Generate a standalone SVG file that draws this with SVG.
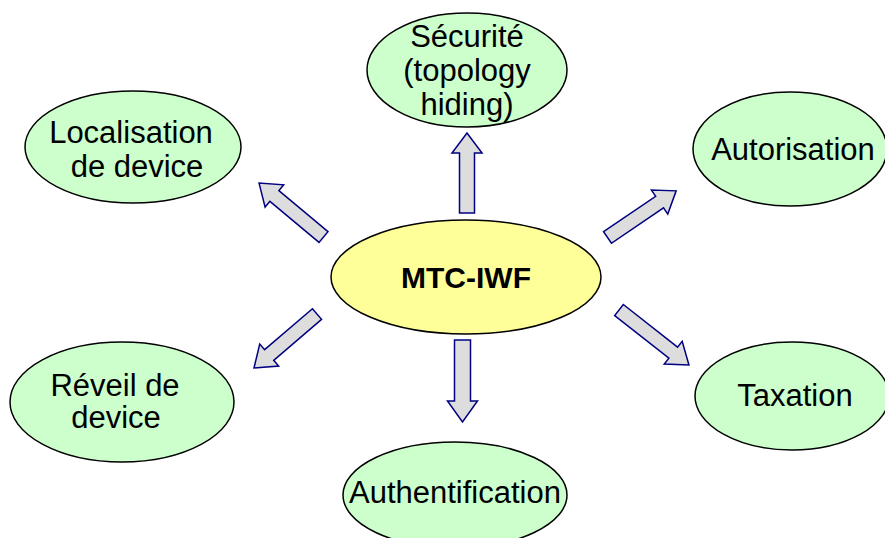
<svg xmlns="http://www.w3.org/2000/svg" width="885" height="538" viewBox="0 0 885 538">
<style>
.n{fill:#ccffcc;stroke:#000;stroke-width:1.5}
.c{fill:#ffff99;stroke:#000;stroke-width:1.5}
.t{font-family:"Liberation Sans",Arial,sans-serif;font-size:31px;fill:#000;text-anchor:middle}
.b{font-weight:bold;font-size:30px}
.a{fill:#dddddd;stroke:#000080;stroke-width:1.5;stroke-linejoin:miter}
</style>
<rect width="885" height="538" fill="#fff"/>
<g id="securite">
<ellipse class="n" cx="467" cy="70" rx="100" ry="57"/>
<text class="t" x="467" y="47">Sécurité</text>
<text class="t" x="467" y="81">(topology</text>
<text class="t" x="467" y="115">hiding)</text>
</g>
<g id="localisation">
<ellipse class="n" cx="133" cy="147" rx="108" ry="56"/>
<text class="t" x="131" y="143">Localisation</text>
<text class="t" x="137" y="177">de device</text>
</g>
<g id="autorisation">
<ellipse class="n" cx="790" cy="149" rx="97" ry="57"/>
<text class="t" x="793" y="160">Autorisation</text>
</g>
<g id="mtc-iwf">
<ellipse class="c" cx="466" cy="277" rx="135" ry="57"/>
<text class="t b" x="466" y="288">MTC-IWF</text>
</g>
<g id="reveil">
<ellipse class="n" cx="122" cy="402" rx="112" ry="60"/>
<text class="t" x="115" y="396">Réveil de</text>
<text class="t" x="116" y="428">device</text>
</g>
<g id="taxation">
<ellipse class="n" cx="792" cy="396" rx="97" ry="54"/>
<text class="t" x="795" y="406">Taxation</text>
</g>
<g id="authentification">
<ellipse class="n" cx="455" cy="495" rx="112" ry="53"/>
<text class="t" x="455" y="503">Authentification</text>
</g>
<g id="connectors">
<path class="a" transform="translate(467,213) rotate(-90)" d="M0,-7.5 H60 V-15 L80,0 L60,15 V7.5 H0 Z"/>
<path class="a" transform="translate(462.5,340) rotate(90)" d="M0,-8 H61 V-15 L82,0 L61,15 V8 H0 Z"/>
<path class="a" transform="translate(323.5,237) rotate(-140.1)" d="M0,-7 H64 V-14.5 L84,0 L64,14.5 V7 H0 Z"/>
<path class="a" transform="translate(607.5,237.5) rotate(-34.2)" d="M0,-7 H63 V-14.5 L83,0 L63,14.5 V7 H0 Z"/>
<path class="a" transform="translate(317,314) rotate(139.4)" d="M0,-7 H63 V-14.5 L83,0 L63,14.5 V7 H0 Z"/>
<path class="a" transform="translate(619,310) rotate(38.2)" d="M0,-7 H69 V-14.5 L89,0 L69,14.5 V7 H0 Z"/>
</g>
</svg>
